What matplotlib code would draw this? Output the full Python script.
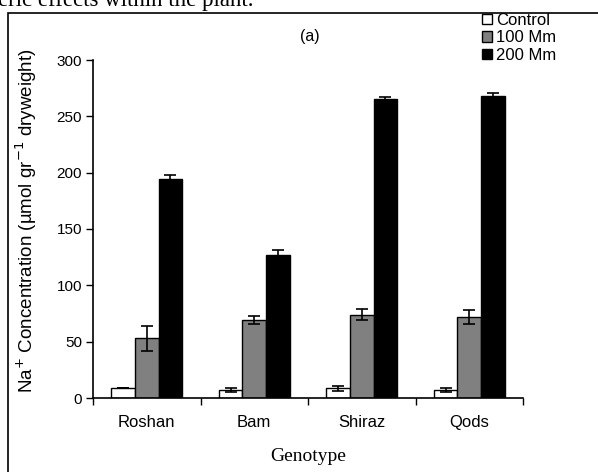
import numpy as np
import matplotlib
matplotlib.use("Agg")
import matplotlib.pyplot as plt
from matplotlib.patches import Rectangle

genotypes = ["Roshan", "Bam", "Shiraz", "Qods"]
series = ["Control", "100 Mm", "200 Mm"]
control = [8.6, 7.0, 8.6, 7.0]
control_err = [0.0, 2.0, 2.0, 2.0]
mm100 = [53, 69, 74, 72]
mm100_err = [11, 3.5, 5, 6]
mm200 = [194, 127, 265, 268]
mm200_err = [3.5, 4, 2.5, 2.7]

plt.rcParams["font.family"] = ["Liberation Sans", "DejaVu Sans"]

fig = plt.figure(figsize=(5.98, 4.72), dpi=100)
W, H = 598, 472
ax = fig.add_axes([93 / W, 74 / H, 430 / W, 338 / H])

x = np.arange(len(genotypes))
w = 0.22
colors = ["white", "#808080", "black"]
vals = [control, mm100, mm200]
errs = [control_err, mm100_err, mm200_err]
for i, (v, e, c, lab) in enumerate(zip(vals, errs, colors, series)):
    pos = x + (i - 1) * w
    ax.bar(pos, v, width=w, color=c, edgecolor="black", linewidth=1.0, label=lab, zorder=2)
    ax.errorbar(pos, v, yerr=e, fmt="none", ecolor="black", elinewidth=1.2,
                capsize=4, capthick=1.2, zorder=3)

ax.set_xlim(-0.5, len(genotypes) - 0.5)
ax.set_ylim(0, 300)
ax.set_yticks(range(0, 301, 50))
ax.set_xticks(x)
ax.set_xticklabels(genotypes, fontsize=12)
ax.set_xticks(np.arange(-0.5, len(genotypes)), minor=True)
ax.tick_params(axis="x", which="major", length=0, pad=12)
ax.tick_params(axis="x", which="minor", length=5, width=1, direction="out")
ax.tick_params(axis="y", length=5, width=1, direction="out", labelsize=11, pad=3)
for s in ["top", "right"]:
    ax.spines[s].set_visible(False)
for s in ["left", "bottom"]:
    ax.spines[s].set_linewidth(1.2)

ax.set_ylabel("Na$^{+}$ Concentration (µmol gr$^{-1}$ dryweight)", fontsize=13.5)
ax.yaxis.set_label_coords(-0.125, 0.525)
ax.set_xlabel("Genotype", fontsize=14, family="Liberation Serif", labelpad=13)

fig.text(310 / W, 1 - 37 / H, "(a)", fontsize=11.5, ha="center", va="center")

ax.legend(loc="upper left", bbox_to_anchor=(482 / W, 1 - 13 / H), bbox_transform=fig.transFigure,
          frameon=False, fontsize=12, handlelength=0.6, handleheight=0.6,
          handletextpad=0.25, labelspacing=0.15, borderaxespad=0, borderpad=0)

# outer frame of the figure panel
fig.patches.append(Rectangle((8 / W, -0.1), 1.0, 1 - 13 / H + 0.1, transform=fig.transFigure,
                             fill=False, edgecolor="black", linewidth=1.2))

fig.text(-2 / W, 1 - 6 / H, "eric effects within the plant.", fontsize=16.5,
         family="Liberation Serif", ha="left", va="baseline")

fig.savefig("out.png", dpi=100)
